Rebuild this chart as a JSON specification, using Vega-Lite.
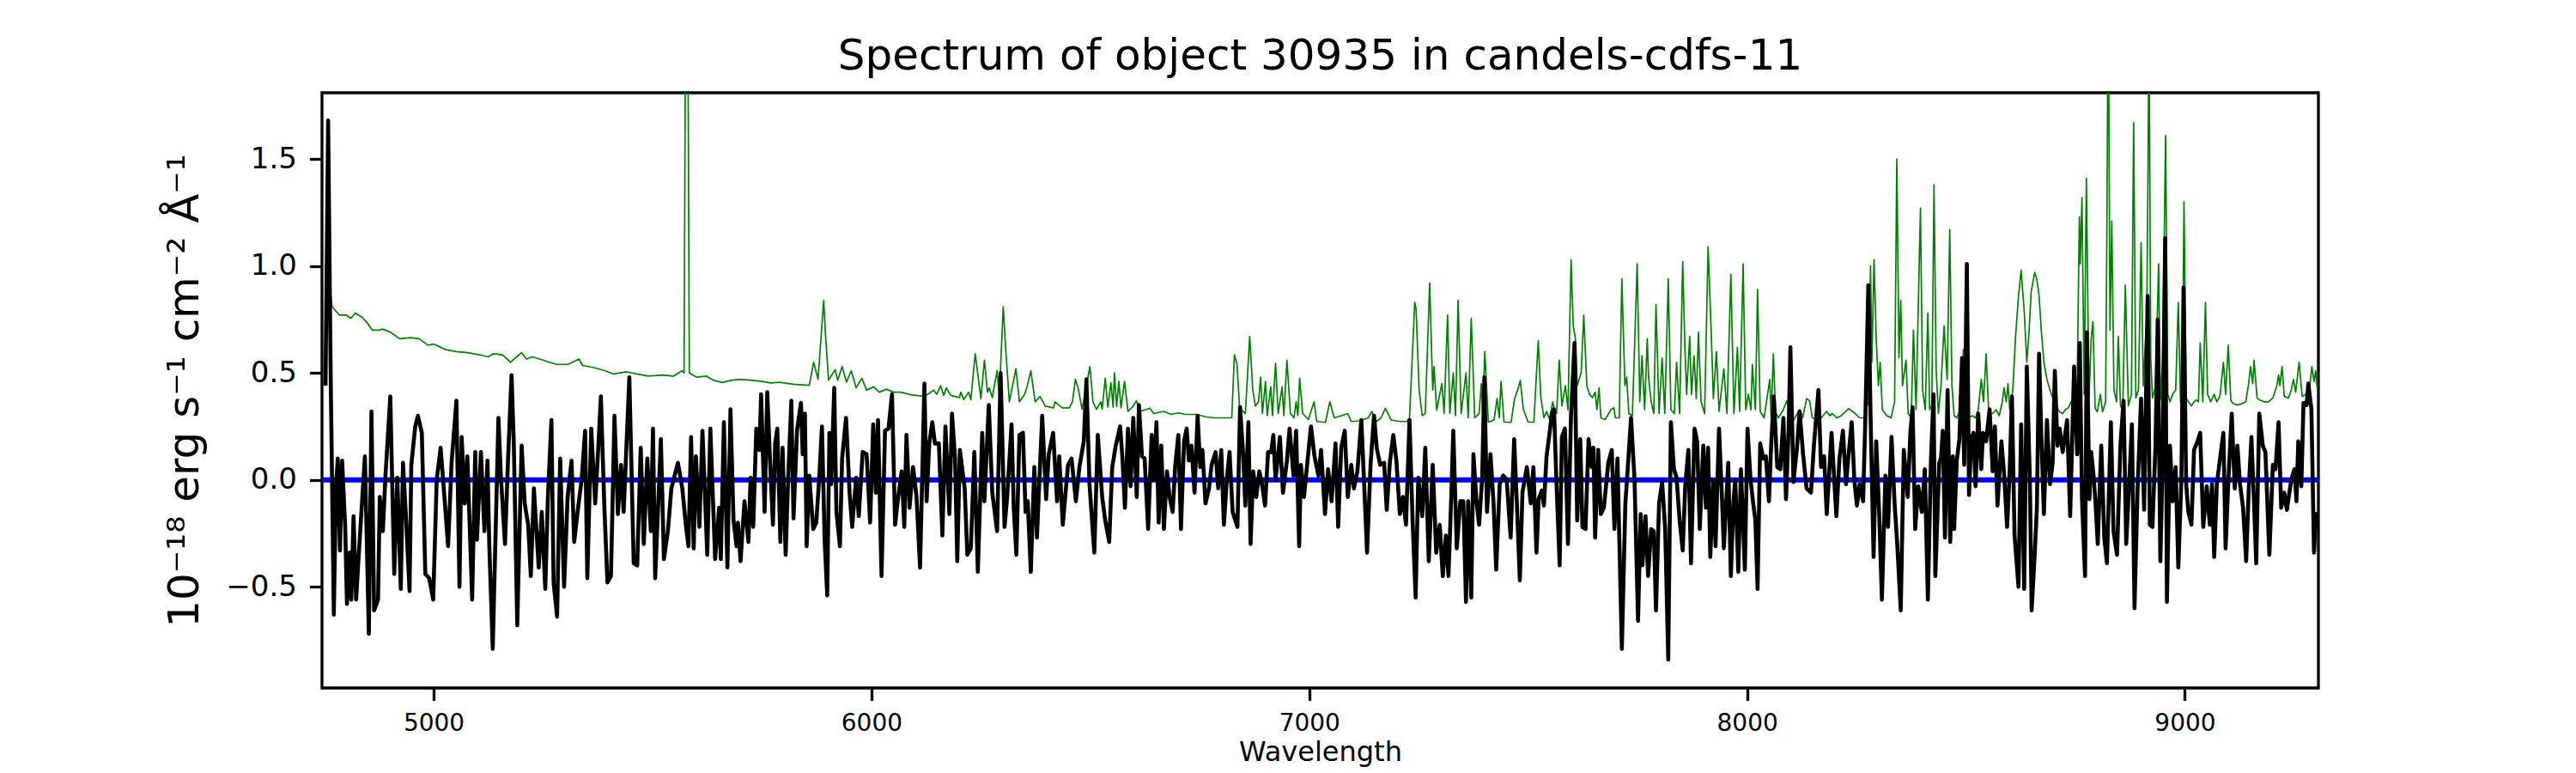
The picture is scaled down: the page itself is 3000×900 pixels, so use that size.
{
  "$schema": "https://vega.github.io/schema/vega-lite/v6.json",
  "description": "Spectrum of object 30935 in candels-cdfs-11",
  "width": 2325,
  "height": 693,
  "autosize": {"type": "none"},
  "padding": {"left": 375, "top": 108, "right": 300, "bottom": 99},
  "background": "white",
  "title": {
    "text": "Spectrum of object 30935 in candels-cdfs-11",
    "fontSize": 50,
    "fontWeight": "normal",
    "color": "black",
    "anchor": "middle",
    "frame": "group",
    "baseline": "alphabetic",
    "offset": 25,
    "dy": 48
  },
  "datasets": {
    "zero": [{"wavelength": 4745, "flux": 0}, {"wavelength": 9305, "flux": 0}],
    "model": [
      {"wavelength":4752,"flux":1.00},{"wavelength":4762,"flux":0.92},{"wavelength":4768,"flux":0.81},{"wavelength":4785,"flux":0.77},{"wavelength":4801,"flux":0.77},{"wavelength":4811,"flux":0.755},{"wavelength":4821,"flux":0.78},{"wavelength":4837,"flux":0.76},{"wavelength":4850,"flux":0.73},{"wavelength":4860,"flux":0.70},{"wavelength":4876,"flux":0.70},{"wavelength":4883,"flux":0.705},{"wavelength":4902,"flux":0.69},{"wavelength":4922,"flux":0.66},{"wavelength":4948,"flux":0.665},{"wavelength":4967,"flux":0.66},{"wavelength":4987,"flux":0.63},{"wavelength":5000,"flux":0.635},{"wavelength":5026,"flux":0.61},{"wavelength":5052,"flux":0.60},{"wavelength":5078,"flux":0.595},{"wavelength":5105,"flux":0.585},{"wavelength":5124,"flux":0.575},{"wavelength":5137,"flux":0.59},{"wavelength":5157,"flux":0.585},{"wavelength":5176,"flux":0.55},{"wavelength":5189,"flux":0.575},{"wavelength":5201,"flux":0.595},{"wavelength":5212,"flux":0.565},{"wavelength":5225,"flux":0.575},{"wavelength":5242,"flux":0.565},{"wavelength":5264,"flux":0.55},{"wavelength":5281,"flux":0.54},{"wavelength":5307,"flux":0.54},{"wavelength":5332,"flux":0.565},{"wavelength":5340,"flux":0.535},{"wavelength":5366,"flux":0.525},{"wavelength":5392,"flux":0.51},{"wavelength":5411,"flux":0.495},{"wavelength":5441,"flux":0.505},{"wavelength":5464,"flux":0.495},{"wavelength":5490,"flux":0.485},{"wavelength":5522,"flux":0.49},{"wavelength":5548,"flux":0.485},{"wavelength":5567,"flux":0.51},{"wavelength":5572,"flux":0.50},{"wavelength":5576,"flux":2.5},{"wavelength":5580,"flux":2.5},{"wavelength":5584,"flux":0.50},{"wavelength":5601,"flux":0.48},{"wavelength":5623,"flux":0.485},{"wavelength":5640,"flux":0.465},{"wavelength":5659,"flux":0.455},{"wavelength":5679,"flux":0.465},{"wavelength":5698,"flux":0.47},{"wavelength":5724,"flux":0.466},{"wavelength":5750,"flux":0.46},{"wavelength":5770,"flux":0.453},{"wavelength":5790,"flux":0.456},{"wavelength":5822,"flux":0.447},{"wavelength":5858,"flux":0.442},{"wavelength":5868,"flux":0.55},{"wavelength":5878,"flux":0.47},{"wavelength":5891,"flux":0.84},{"wavelength":5895,"flux":0.68},{"wavelength":5902,"flux":0.466},{"wavelength":5917,"flux":0.515},{"wavelength":5923,"flux":0.466},{"wavelength":5933,"flux":0.53},{"wavelength":5943,"flux":0.457},{"wavelength":5954,"flux":0.51},{"wavelength":5965,"flux":0.43},{"wavelength":5978,"flux":0.475},{"wavelength":5989,"flux":0.42},{"wavelength":6005,"flux":0.435},{"wavelength":6018,"flux":0.41},{"wavelength":6034,"flux":0.424},{"wavelength":6051,"flux":0.41},{"wavelength":6067,"flux":0.41},{"wavelength":6090,"flux":0.398},{"wavelength":6116,"flux":0.392},{"wavelength":6129,"flux":0.40},{"wavelength":6142,"flux":0.42},{"wavelength":6149,"flux":0.40},{"wavelength":6158,"flux":0.44},{"wavelength":6165,"flux":0.395},{"wavelength":6171,"flux":0.43},{"wavelength":6181,"flux":0.395},{"wavelength":6201,"flux":0.385},{"wavelength":6204,"flux":0.41},{"wavelength":6211,"flux":0.375},{"wavelength":6222,"flux":0.41},{"wavelength":6227,"flux":0.375},{"wavelength":6237,"flux":0.59},{"wavelength":6250,"flux":0.38},{"wavelength":6258,"flux":0.56},{"wavelength":6265,"flux":0.41},{"wavelength":6269,"flux":0.43},{"wavelength":6276,"flux":0.385},{"wavelength":6287,"flux":0.51},{"wavelength":6292,"flux":0.385},{"wavelength":6301,"flux":0.81},{"wavelength":6307,"flux":0.60},{"wavelength":6315,"flux":0.365},{"wavelength":6330,"flux":0.52},{"wavelength":6338,"flux":0.365},{"wavelength":6350,"flux":0.40},{"wavelength":6356,"flux":0.44},{"wavelength":6364,"flux":0.51},{"wavelength":6374,"flux":0.365},{"wavelength":6385,"flux":0.39},{"wavelength":6397,"flux":0.345},{"wavelength":6416,"flux":0.337},{"wavelength":6419,"flux":0.365},{"wavelength":6436,"flux":0.337},{"wavelength":6452,"flux":0.337},{"wavelength":6459,"flux":0.365},{"wavelength":6466,"flux":0.47},{"wavelength":6472,"flux":0.43},{"wavelength":6481,"flux":0.33},{"wavelength":6499,"flux":0.53},{"wavelength":6506,"flux":0.365},{"wavelength":6514,"flux":0.33},{"wavelength":6524,"flux":0.365},{"wavelength":6527,"flux":0.33},{"wavelength":6534,"flux":0.475},{"wavelength":6540,"flux":0.34},{"wavelength":6547,"flux":0.455},{"wavelength":6552,"flux":0.34},{"wavelength":6555,"flux":0.50},{"wavelength":6560,"flux":0.343},{"wavelength":6565,"flux":0.46},{"wavelength":6570,"flux":0.337},{"wavelength":6578,"flux":0.46},{"wavelength":6586,"flux":0.32},{"wavelength":6598,"flux":0.345},
      {"wavelength":6605,"flux":0.37},{"wavelength":6613,"flux":0.32},{"wavelength":6626,"flux":0.328},{"wavelength":6636,"flux":0.335},{"wavelength":6645,"flux":0.31},{"wavelength":6668,"flux":0.32},{"wavelength":6684,"flux":0.306},{"wavelength":6701,"flux":0.313},{"wavelength":6717,"flux":0.306},{"wavelength":6743,"flux":0.306},{"wavelength":6763,"flux":0.295},{"wavelength":6782,"flux":0.29},{"wavelength":6802,"flux":0.29},{"wavelength":6823,"flux":0.29},{"wavelength":6829,"flux":0.585},{"wavelength":6835,"flux":0.54},{"wavelength":6841,"flux":0.335},{"wavelength":6854,"flux":0.31},{"wavelength":6864,"flux":0.67},{"wavelength":6871,"flux":0.42},{"wavelength":6877,"flux":0.345},{"wavelength":6884,"flux":0.365},{"wavelength":6889,"flux":0.48},{"wavelength":6893,"flux":0.31},{"wavelength":6900,"flux":0.46},{"wavelength":6904,"flux":0.30},{"wavelength":6912,"flux":0.435},{"wavelength":6916,"flux":0.30},{"wavelength":6923,"flux":0.545},{"wavelength":6929,"flux":0.31},{"wavelength":6938,"flux":0.435},{"wavelength":6942,"flux":0.30},{"wavelength":6949,"flux":0.56},{"wavelength":6957,"flux":0.31},{"wavelength":6965,"flux":0.29},{"wavelength":6970,"flux":0.365},{"wavelength":6974,"flux":0.30},{"wavelength":6978,"flux":0.475},{"wavelength":6985,"flux":0.31},{"wavelength":6998,"flux":0.282},{"wavelength":7011,"flux":0.365},{"wavelength":7017,"flux":0.273},{"wavelength":7037,"flux":0.269},{"wavelength":7047,"flux":0.365},{"wavelength":7057,"flux":0.29},{"wavelength":7073,"flux":0.30},{"wavelength":7088,"flux":0.31},{"wavelength":7096,"flux":0.273},{"wavelength":7115,"flux":0.276},{"wavelength":7135,"flux":0.29},{"wavelength":7143,"flux":0.32},{"wavelength":7154,"flux":0.273},{"wavelength":7164,"flux":0.29},{"wavelength":7174,"flux":0.335},{"wavelength":7187,"flux":0.28},{"wavelength":7207,"flux":0.273},{"wavelength":7223,"flux":0.273},{"wavelength":7229,"flux":0.29},{"wavelength":7241,"flux":0.83},{"wavelength":7244,"flux":0.80},{"wavelength":7251,"flux":0.42},{"wavelength":7258,"flux":0.30},{"wavelength":7265,"flux":0.31},{"wavelength":7275,"flux":0.92},{"wavelength":7282,"flux":0.42},{"wavelength":7285,"flux":0.53},{"wavelength":7291,"flux":0.326},{"wavelength":7303,"flux":0.45},{"wavelength":7308,"flux":0.31},{"wavelength":7316,"flux":0.77},{"wavelength":7321,"flux":0.31},{"wavelength":7329,"flux":0.50},{"wavelength":7334,"flux":0.30},{"wavelength":7340,"flux":0.84},{"wavelength":7347,"flux":0.31},{"wavelength":7358,"flux":0.50},{"wavelength":7363,"flux":0.29},{"wavelength":7370,"flux":0.755},{"wavelength":7378,"flux":0.29},{"wavelength":7388,"flux":0.31},{"wavelength":7393,"flux":0.45},{"wavelength":7396,"flux":0.31},{"wavelength":7401,"flux":0.60},{"wavelength":7409,"flux":0.27},{"wavelength":7422,"flux":0.28},{"wavelength":7429,"flux":0.38},{"wavelength":7434,"flux":0.29},{"wavelength":7438,"flux":0.46},{"wavelength":7445,"flux":0.27},{"wavelength":7461,"flux":0.269},{"wavelength":7469,"flux":0.38},{"wavelength":7476,"flux":0.42},{"wavelength":7482,"flux":0.465},{"wavelength":7489,"flux":0.33},{"wavelength":7500,"flux":0.27},
      {"wavelength":7513,"flux":0.27},{"wavelength":7523,"flux":0.65},{"wavelength":7529,"flux":0.385},{"wavelength":7536,"flux":0.29},{"wavelength":7542,"flux":0.32},{"wavelength":7549,"flux":0.282},{"wavelength":7556,"flux":0.365},{"wavelength":7560,"flux":0.328},{"wavelength":7565,"flux":0.31},{"wavelength":7571,"flux":0.56},{"wavelength":7577,"flux":0.346},{"wavelength":7585,"flux":0.44},{"wavelength":7591,"flux":0.328},{"wavelength":7598,"flux":1.03},{"wavelength":7603,"flux":0.72},{"wavelength":7608,"flux":0.66},{"wavelength":7612,"flux":0.44},{"wavelength":7621,"flux":0.50},{"wavelength":7627,"flux":0.77},{"wavelength":7634,"flux":0.44},{"wavelength":7640,"flux":0.40},{"wavelength":7647,"flux":0.385},{"wavelength":7653,"flux":0.41},{"wavelength":7657,"flux":0.328},{"wavelength":7662,"flux":0.43},{"wavelength":7666,"flux":0.29},{"wavelength":7676,"flux":0.282},{"wavelength":7689,"flux":0.328},{"wavelength":7696,"flux":0.337},{"wavelength":7699,"flux":0.29},{"wavelength":7708,"flux":0.29},{"wavelength":7714,"flux":0.94},{"wavelength":7721,"flux":0.44},{"wavelength":7725,"flux":0.48},{"wavelength":7730,"flux":0.31},{"wavelength":7738,"flux":0.30},{"wavelength":7749,"flux":1.01},{"wavelength":7755,"flux":0.365},{"wavelength":7760,"flux":0.58},{"wavelength":7766,"flux":0.328},{"wavelength":7772,"flux":0.66},{"wavelength":7775,"flux":0.48},{"wavelength":7781,"flux":0.365},{"wavelength":7787,"flux":0.31},{"wavelength":7792,"flux":0.82},{"wavelength":7799,"flux":0.31},{"wavelength":7806,"flux":0.57},{"wavelength":7812,"flux":0.31},{"wavelength":7820,"flux":0.94},{"wavelength":7826,"flux":0.328},{"wavelength":7834,"flux":0.31},{"wavelength":7839,"flux":0.55},{"wavelength":7846,"flux":0.31},{"wavelength":7853,"flux":1.02},{"wavelength":7858,"flux":0.62},{"wavelength":7862,"flux":0.40},{"wavelength":7869,"flux":0.67},{"wavelength":7873,"flux":0.40},{"wavelength":7879,"flux":0.58},{"wavelength":7884,"flux":0.38},{"wavelength":7889,"flux":0.69},{"wavelength":7895,"flux":0.365},{"wavelength":7903,"flux":0.31},{"wavelength":7911,"flux":1.09},{"wavelength":7918,"flux":0.70},{"wavelength":7923,"flux":0.38},{"wavelength":7930,"flux":0.60},{"wavelength":7936,"flux":0.32},{"wavelength":7947,"flux":0.52},{"wavelength":7954,"flux":0.31},{"wavelength":7963,"flux":0.96},{"wavelength":7970,"flux":0.31},{"wavelength":7978,"flux":0.62},{"wavelength":7983,"flux":0.32},{"wavelength":7991,"flux":1.01},{"wavelength":7997,"flux":0.328},{"wavelength":8003,"flux":0.40},{"wavelength":8009,"flux":0.328},{"wavelength":8012,"flux":0.54},{"wavelength":8019,"flux":0.328},{"wavelength":8024,"flux":0.89},{"wavelength":8030,"flux":0.32},{"wavelength":8039,"flux":0.29},{"wavelength":8052,"flux":0.47},{"wavelength":8055,"flux":0.29},{"wavelength":8060,"flux":0.59},{"wavelength":8065,"flux":0.32},{"wavelength":8071,"flux":0.29},{"wavelength":8081,"flux":0.32},{"wavelength":8091,"flux":0.37},{"wavelength":8097,"flux":0.32},{"wavelength":8107,"flux":0.282},{"wavelength":8120,"flux":0.328},{"wavelength":8127,"flux":0.29},{"wavelength":8136,"flux":0.38},{"wavelength":8143,"flux":0.37},{"wavelength":8149,"flux":0.29},{"wavelength":8166,"flux":0.282},{"wavelength":8182,"flux":0.32},{"wavelength":8189,"flux":0.30},{"wavelength":8195,"flux":0.31},{"wavelength":8205,"flux":0.29},{"wavelength":8215,"flux":0.30},{"wavelength":8225,"flux":0.32},{"wavelength":8232,"flux":0.333},{"wavelength":8241,"flux":0.32},{"wavelength":8247,"flux":0.31},{"wavelength":8257,"flux":0.29},{"wavelength":8267,"flux":0.29},{"wavelength":8277,"flux":0.365},{"wavelength":8282,"flux":1.00},{"wavelength":8285,"flux":0.55},{"wavelength":8290,"flux":1.03},{"wavelength":8295,"flux":0.66},{"wavelength":8300,"flux":0.44},{"wavelength":8304,"flux":0.55},{"wavelength":8309,"flux":0.328},{"wavelength":8319,"flux":0.30},{"wavelength":8329,"flux":0.29},{"wavelength":8337,"flux":0.365},{"wavelength":8342,"flux":1.50},{"wavelength":8347,"flux":0.57},{"wavelength":8351,"flux":0.84},{"wavelength":8355,"flux":0.44},{"wavelength":8363,"flux":0.56},{"wavelength":8368,"flux":0.31},{"wavelength":8375,"flux":0.29},{"wavelength":8380,"flux":0.70},{"wavelength":8386,"flux":0.328},{"wavelength":8396,"flux":1.27},{"wavelength":8401,"flux":0.42},{"wavelength":8407,"flux":0.328},{"wavelength":8413,"flux":0.78},{"wavelength":8417,"flux":0.328},{"wavelength":8422,"flux":0.35},{"wavelength":8427,"flux":1.38},{"wavelength":8432,"flux":0.51},{"wavelength":8437,"flux":0.31},{"wavelength":8443,"flux":0.44},{"wavelength":8450,"flux":0.72},{"wavelength":8457,"flux":0.47},{"wavelength":8463,"flux":1.17},{"wavelength":8468,"flux":0.44},{"wavelength":8473,"flux":0.30},{"wavelength":8479,"flux":0.29},{"wavelength":8489,"flux":0.337},{"wavelength":8494,"flux":0.61},{"wavelength":8499,"flux":0.31},{"wavelength":8505,"flux":0.29},{"wavelength":8515,"flux":0.30},{"wavelength":8522,"flux":0.29},{"wavelength":8528,"flux":0.328},{"wavelength":8535,"flux":0.47},{"wavelength":8540,"flux":0.365},{"wavelength":8546,"flux":0.59},{"wavelength":8552,"flux":0.31},{"wavelength":8561,"flux":0.31},{"wavelength":8569,"flux":0.328},{"wavelength":8576,"flux":0.30},{"wavelength":8583,"flux":0.365},{"wavelength":8587,"flux":0.43},{"wavelength":8592,"flux":0.365},{"wavelength":8596,"flux":0.45},{"wavelength":8600,"flux":0.328},{"wavelength":8607,"flux":0.42},{"wavelength":8613,"flux":0.66},{"wavelength":8620,"flux":0.86},{"wavelength":8626,"flux":0.98},{"wavelength":8633,"flux":0.79},{"wavelength":8639,"flux":0.55},{"wavelength":8644,"flux":0.69},{"wavelength":8649,"flux":0.88},{"wavelength":8657,"flux":0.97},{"wavelength":8662,"flux":0.935},{"wavelength":8667,"flux":0.86},{"wavelength":8672,"flux":0.70},{"wavelength":8678,"flux":0.55},{"wavelength":8685,"flux":0.47},{"wavelength":8692,"flux":0.42},{"wavelength":8698,"flux":0.385},{"wavelength":8707,"flux":0.34},{"wavelength":8714,"flux":0.318},{"wavelength":8721,"flux":0.31},{"wavelength":8727,"flux":0.328},{"wavelength":8734,"flux":0.337},{"wavelength":8740,"flux":0.365},{"wavelength":8747,"flux":0.355},{"wavelength":8754,"flux":0.44},{"wavelength":8759,"flux":1.23},{"wavelength":8761,"flux":1.01},{"wavelength":8765,"flux":1.32},{"wavelength":8770,"flux":0.40},{"wavelength":8775,"flux":1.41},{"wavelength":8781,"flux":0.38},{"wavelength":8786,"flux":0.66},{"wavelength":8790,"flux":0.74},{"wavelength":8795,"flux":0.337},{"wavelength":8800,"flux":0.318},{"wavelength":8807,"flux":0.40},{"wavelength":8812,"flux":0.318},{"wavelength":8819,"flux":0.365},{"wavelength":8822,"flux":1.2},{"wavelength":8825,"flux":2.4},{"wavelength":8827,"flux":1.5},{"wavelength":8829,"flux":0.70},{"wavelength":8833,"flux":1.21},{"wavelength":8838,"flux":0.42},{"wavelength":8844,"flux":0.365},{"wavelength":8848,"flux":0.67},{"wavelength":8853,"flux":0.346},{"wavelength":8858,"flux":0.328},{"wavelength":8864,"flux":0.91},{"wavelength":8871,"flux":0.346},{"wavelength":8878,"flux":0.40},{"wavelength":8883,"flux":1.67},{"wavelength":8888,"flux":0.383},{"wavelength":8894,"flux":0.42},{"wavelength":8900,"flux":1.11},{"wavelength":8905,"flux":0.44},{"wavelength":8910,"flux":0.66},{"wavelength":8913,"flux":0.75},{"wavelength":8916,"flux":1.5},{"wavelength":8918,"flux":2.2},{"wavelength":8920,"flux":1.4},{"wavelength":8922,"flux":0.57},{"wavelength":8926,"flux":0.383},{"wavelength":8933,"flux":0.44},{"wavelength":8940,"flux":1.01},{"wavelength":8944,"flux":0.374},{"wavelength":8949,"flux":0.55},{"wavelength":8956,"flux":1.61},{"wavelength":8961,"flux":0.40},{"wavelength":8966,"flux":0.365},{"wavelength":8972,"flux":0.40},{"wavelength":8979,"flux":0.42},{"wavelength":8985,"flux":0.83},{"wavelength":8990,"flux":0.365},{"wavelength":8994,"flux":0.374},{"wavelength":8998,"flux":1.30},{"wavelength":9003,"flux":0.383},{"wavelength":9008,"flux":0.365},{"wavelength":9015,"flux":0.346},{"wavelength":9021,"flux":0.365},{"wavelength":9026,"flux":0.374},{"wavelength":9031,"flux":0.365},{"wavelength":9035,"flux":0.64},{"wavelength":9041,"flux":0.365},{"wavelength":9047,"flux":0.83},{"wavelength":9052,"flux":0.40},{"wavelength":9059,"flux":0.365},{"wavelength":9067,"flux":0.40},{"wavelength":9073,"flux":0.365},{"wavelength":9080,"flux":0.39},{"wavelength":9088,"flux":0.55},{"wavelength":9093,"flux":0.40},{"wavelength":9099,"flux":0.63},{"wavelength":9105,"flux":0.37},{"wavelength":9112,"flux":0.355},{"wavelength":9119,"flux":0.35},{"wavelength":9129,"flux":0.355},{"wavelength":9139,"flux":0.365},{"wavelength":9145,"flux":0.44},{"wavelength":9150,"flux":0.53},{"wavelength":9155,"flux":0.45},{"wavelength":9158,"flux":0.56},{"wavelength":9165,"flux":0.383},{"wavelength":9171,"flux":0.374},{"wavelength":9181,"flux":0.365},{"wavelength":9191,"flux":0.365},{"wavelength":9201,"flux":0.383},{"wavelength":9210,"flux":0.44},{"wavelength":9214,"flux":0.49},{"wavelength":9217,"flux":0.44},{"wavelength":9222,"flux":0.53},{"wavelength":9227,"flux":0.39},{"wavelength":9237,"flux":0.383},{"wavelength":9243,"flux":0.42},{"wavelength":9248,"flux":0.47},{"wavelength":9253,"flux":0.41},{"wavelength":9261,"flux":0.55},{"wavelength":9268,"flux":0.39},{"wavelength":9276,"flux":0.40},{"wavelength":9285,"flux":0.43},{"wavelength":9290,"flux":0.53},{"wavelength":9295,"flux":0.46},{"wavelength":9299,"flux":0.51},{"wavelength":9302,"flux":0.43}
    ],
    "spectrum": [
      {"wavelength":4753,"flux":0.44},{"wavelength":4759,"flux":1.68},{"wavelength":4765,"flux":0.46},{"wavelength":4772,"flux":-0.63},{"wavelength":4777,"flux":-0.03},{"wavelength":4781,"flux":0.10},{"wavelength":4786,"flux":-0.33},{"wavelength":4791,"flux":0.09},{"wavelength":4798,"flux":-0.22},{"wavelength":4802,"flux":-0.58},{"wavelength":4808,"flux":-0.34},{"wavelength":4812,"flux":-0.56},{"wavelength":4817,"flux":-0.17},{"wavelength":4823,"flux":-0.56},{"wavelength":4829,"flux":-0.35},{"wavelength":4835,"flux":-0.15},{"wavelength":4843,"flux":0.11},{"wavelength":4852,"flux":-0.72},{"wavelength":4858,"flux":0.32},{"wavelength":4864,"flux":-0.61},{"wavelength":4873,"flux":-0.56},{"wavelength":4877,"flux":-0.08},{"wavelength":4884,"flux":-0.24},{"wavelength":4890,"flux":0.02},{"wavelength":4901,"flux":0.39},{"wavelength":4910,"flux":-0.44},{"wavelength":4917,"flux":0.01},{"wavelength":4925,"flux":-0.51},{"wavelength":4930,"flux":0.08},{"wavelength":4936,"flux":-0.14},{"wavelength":4945,"flux":-0.52},{"wavelength":4949,"flux":0.07},{"wavelength":4958,"flux":0.25},{"wavelength":4964,"flux":0.30},{"wavelength":4973,"flux":0.22},{"wavelength":4981,"flux":-0.44},{"wavelength":4990,"flux":-0.46},{"wavelength":4999,"flux":-0.56},{"wavelength":5007,"flux":0.00},{"wavelength":5016,"flux":0.15},{"wavelength":5025,"flux":-0.09},{"wavelength":5033,"flux":-0.31},{"wavelength":5041,"flux":0.08},{"wavelength":5052,"flux":0.37},{"wavelength":5059,"flux":-0.50},{"wavelength":5064,"flux":0.20},{"wavelength":5071,"flux":-0.11},{"wavelength":5077,"flux":0.11},{"wavelength":5088,"flux":-0.56},{"wavelength":5095,"flux":0.13},{"wavelength":5099,"flux":-0.28},{"wavelength":5108,"flux":0.13},{"wavelength":5116,"flux":-0.24},{"wavelength":5123,"flux":0.09},{"wavelength":5127,"flux":-0.30},{"wavelength":5135,"flux":-0.79},{"wavelength":5148,"flux":0.29},{"wavelength":5154,"flux":0.00},{"wavelength":5163,"flux":-0.30},{"wavelength":5170,"flux":0.10},{"wavelength":5178,"flux":0.49},{"wavelength":5183,"flux":0.18},{"wavelength":5191,"flux":-0.68},{"wavelength":5201,"flux":0.16},{"wavelength":5208,"flux":-0.11},{"wavelength":5216,"flux":-0.21},{"wavelength":5222,"flux":-0.45},{"wavelength":5229,"flux":-0.04},{"wavelength":5240,"flux":-0.41},{"wavelength":5247,"flux":-0.15},{"wavelength":5255,"flux":-0.51},{"wavelength":5261,"flux":-0.08},{"wavelength":5269,"flux":0.28},{"wavelength":5274,"flux":-0.48},{"wavelength":5282,"flux":-0.64},{"wavelength":5289,"flux":0.10},{"wavelength":5298,"flux":-0.50},{"wavelength":5306,"flux":-0.08},{"wavelength":5315,"flux":0.09},{"wavelength":5321,"flux":-0.29},{"wavelength":5330,"flux":-0.13},{"wavelength":5338,"flux":0.00},{"wavelength":5346,"flux":0.23},{"wavelength":5351,"flux":-0.46},{"wavelength":5360,"flux":0.24},{"wavelength":5369,"flux":-0.11},{"wavelength":5375,"flux":0.11},{"wavelength":5382,"flux":0.39},{"wavelength":5390,"flux":-0.13},{"wavelength":5397,"flux":-0.48},{"wavelength":5405,"flux":-0.45},{"wavelength":5413,"flux":0.30},{"wavelength":5421,"flux":-0.16},{"wavelength":5428,"flux":0.07},{"wavelength":5434,"flux":-0.15},{"wavelength":5447,"flux":0.48},{"wavelength":5457,"flux":-0.39},{"wavelength":5465,"flux":-0.40},{"wavelength":5473,"flux":0.15},{"wavelength":5480,"flux":-0.30},{"wavelength":5488,"flux":0.10},{"wavelength":5496,"flux":-0.24},{"wavelength":5501,"flux":0.24},{"wavelength":5506,"flux":-0.46},{"wavelength":5519,"flux":0.19},{"wavelength":5526,"flux":-0.37},{"wavelength":5535,"flux":-0.24},{"wavelength":5543,"flux":-0.04},{"wavelength":5558,"flux":0.08},{"wavelength":5568,"flux":-0.04},{"wavelength":5576,"flux":-0.21},{"wavelength":5582,"flux":-0.31},{"wavelength":5588,"flux":0.20},{"wavelength":5594,"flux":-0.32},{"wavelength":5599,"flux":0.11},{"wavelength":5607,"flux":-0.22},{"wavelength":5614,"flux":0.23},{"wavelength":5625,"flux":-0.35},{"wavelength":5632,"flux":0.24},{"wavelength":5643,"flux":-0.37},{"wavelength":5652,"flux":-0.13},{"wavelength":5656,"flux":-0.37},{"wavelength":5663,"flux":0.27},{"wavelength":5671,"flux":-0.41},{"wavelength":5678,"flux":0.33},
      {"wavelength":5685,"flux":-0.19},{"wavelength":5692,"flux":-0.31},{"wavelength":5695,"flux":-0.20},{"wavelength":5701,"flux":-0.38},{"wavelength":5710,"flux":-0.10},{"wavelength":5719,"flux":-0.29},{"wavelength":5724,"flux":0.01},{"wavelength":5730,"flux":-0.22},{"wavelength":5737,"flux":0.24},{"wavelength":5744,"flux":0.14},{"wavelength":5748,"flux":0.40},{"wavelength":5756,"flux":-0.15},{"wavelength":5762,"flux":0.41},{"wavelength":5769,"flux":0.06},{"wavelength":5775,"flux":-0.21},{"wavelength":5780,"flux":0.17},{"wavelength":5785,"flux":0.24},{"wavelength":5792,"flux":-0.29},{"wavelength":5797,"flux":0.15},{"wavelength":5804,"flux":-0.35},{"wavelength":5810,"flux":0.02},{"wavelength":5817,"flux":0.37},{"wavelength":5822,"flux":-0.18},{"wavelength":5830,"flux":0.23},{"wavelength":5839,"flux":0.36},{"wavelength":5843,"flux":0.12},{"wavelength":5848,"flux":0.31},{"wavelength":5852,"flux":-0.31},{"wavelength":5858,"flux":0.02},{"wavelength":5867,"flux":-0.23},{"wavelength":5874,"flux":-0.20},{"wavelength":5881,"flux":0.02},{"wavelength":5887,"flux":0.25},{"wavelength":5893,"flux":-0.28},{"wavelength":5899,"flux":-0.54},{"wavelength":5904,"flux":0.22},{"wavelength":5908,"flux":-0.02},{"wavelength":5915,"flux":0.43},{"wavelength":5920,"flux":-0.15},{"wavelength":5928,"flux":-0.31},{"wavelength":5933,"flux":0.10},{"wavelength":5942,"flux":0.29},{"wavelength":5950,"flux":-0.06},{"wavelength":5956,"flux":-0.22},{"wavelength":5965,"flux":0.01},{"wavelength":5971,"flux":-0.17},{"wavelength":5980,"flux":0.13},{"wavelength":5989,"flux":0.12},{"wavelength":5997,"flux":-0.20},{"wavelength":6004,"flux":0.26},{"wavelength":6010,"flux":-0.06},{"wavelength":6015,"flux":0.28},{"wavelength":6023,"flux":-0.45},{"wavelength":6031,"flux":0.23},{"wavelength":6039,"flux":0.24},{"wavelength":6047,"flux":0.40},{"wavelength":6054,"flux":-0.21},{"wavelength":6060,"flux":-0.10},{"wavelength":6069,"flux":0.04},{"wavelength":6075,"flux":-0.22},{"wavelength":6080,"flux":0.21},{"wavelength":6087,"flux":-0.13},{"wavelength":6095,"flux":0.06},{"wavelength":6103,"flux":-0.08},{"wavelength":6111,"flux":-0.41},{"wavelength":6121,"flux":0.45},{"wavelength":6126,"flux":-0.10},{"wavelength":6132,"flux":0.17},{"wavelength":6139,"flux":0.27},{"wavelength":6145,"flux":0.17},{"wavelength":6154,"flux":0.17},{"wavelength":6162,"flux":-0.26},{"wavelength":6169,"flux":0.25},{"wavelength":6178,"flux":-0.16},{"wavelength":6184,"flux":0.31},{"wavelength":6191,"flux":0.10},{"wavelength":6196,"flux":-0.38},{"wavelength":6202,"flux":0.14},{"wavelength":6213,"flux":-0.04},{"wavelength":6219,"flux":-0.35},{"wavelength":6227,"flux":-0.32},{"wavelength":6235,"flux":0.13},{"wavelength":6243,"flux":-0.43},{"wavelength":6253,"flux":0.22},{"wavelength":6258,"flux":-0.10},{"wavelength":6268,"flux":0.35},{"wavelength":6276,"flux":-0.06},{"wavelength":6287,"flux":-0.24},{"wavelength":6295,"flux":0.50},{"wavelength":6304,"flux":-0.22},{"wavelength":6310,"flux":-0.08},{"wavelength":6320,"flux":0.26},{"wavelength":6325,"flux":-0.13},{"wavelength":6331,"flux":-0.35},{"wavelength":6338,"flux":0.21},{"wavelength":6346,"flux":0.22},{"wavelength":6352,"flux":-0.15},{"wavelength":6357,"flux":-0.10},{"wavelength":6364,"flux":-0.43},{"wavelength":6372,"flux":0.06},{"wavelength":6378,"flux":-0.27},{"wavelength":6390,"flux":0.30},{"wavelength":6399,"flux":-0.09},{"wavelength":6405,"flux":0.12},{"wavelength":6415,"flux":0.22},{"wavelength":6424,"flux":-0.10},{"wavelength":6429,"flux":0.11},{"wavelength":6437,"flux":-0.21},{"wavelength":6449,"flux":0.07},{"wavelength":6457,"flux":0.10},{"wavelength":6467,"flux":-0.10},{"wavelength":6475,"flux":0.06},{"wavelength":6485,"flux":0.18},{"wavelength":6491,"flux":0.47},{"wavelength":6498,"flux":-0.02},{"wavelength":6509,"flux":-0.34},{"wavelength":6517,"flux":0.21},{"wavelength":6527,"flux":-0.08},{"wavelength":6534,"flux":-0.19},{"wavelength":6543,"flux":-0.29},{"wavelength":6550,"flux":0.06},{"wavelength":6558,"flux":0.16},{"wavelength":6568,"flux":0.25},{"wavelength":6573,"flux":0.11},{"wavelength":6579,"flux":-0.13},{"wavelength":6586,"flux":0.24},{"wavelength":6592,"flux":-0.03},{"wavelength":6598,"flux":0.29},
      {"wavelength":6606,"flux":-0.08},{"wavelength":6611,"flux":0.35},{"wavelength":6618,"flux":0.11},{"wavelength":6624,"flux":0.10},{"wavelength":6632,"flux":-0.23},{"wavelength":6640,"flux":0.21},{"wavelength":6645,"flux":0.00},{"wavelength":6651,"flux":0.27},{"wavelength":6656,"flux":-0.20},{"wavelength":6662,"flux":0.16},{"wavelength":6668,"flux":-0.23},{"wavelength":6675,"flux":0.04},{"wavelength":6681,"flux":-0.08},{"wavelength":6688,"flux":-0.15},{"wavelength":6694,"flux":0.07},{"wavelength":6701,"flux":0.21},{"wavelength":6707,"flux":-0.23},{"wavelength":6714,"flux":0.18},{"wavelength":6720,"flux":0.24},{"wavelength":6725,"flux":0.09},{"wavelength":6731,"flux":0.16},{"wavelength":6738,"flux":-0.06},{"wavelength":6745,"flux":0.30},{"wavelength":6751,"flux":0.06},{"wavelength":6756,"flux":0.14},{"wavelength":6763,"flux":-0.11},{"wavelength":6771,"flux":-0.04},{"wavelength":6777,"flux":0.07},{"wavelength":6786,"flux":0.13},{"wavelength":6792,"flux":-0.04},{"wavelength":6799,"flux":0.14},{"wavelength":6805,"flux":-0.21},{"wavelength":6812,"flux":0.01},{"wavelength":6818,"flux":0.13},{"wavelength":6825,"flux":-0.15},{"wavelength":6836,"flux":-0.22},{"wavelength":6842,"flux":0.34},{"wavelength":6849,"flux":0.12},{"wavelength":6854,"flux":-0.12},{"wavelength":6861,"flux":0.27},{"wavelength":6866,"flux":-0.30},{"wavelength":6872,"flux":0.04},{"wavelength":6879,"flux":-0.08},{"wavelength":6886,"flux":0.04},{"wavelength":6892,"flux":-0.02},{"wavelength":6899,"flux":-0.12},{"wavelength":6906,"flux":0.13},{"wavelength":6913,"flux":0.13},{"wavelength":6918,"flux":0.21},{"wavelength":6923,"flux":0.00},{"wavelength":6933,"flux":0.20},{"wavelength":6940,"flux":-0.06},{"wavelength":6949,"flux":0.09},{"wavelength":6955,"flux":0.24},{"wavelength":6964,"flux":0.02},{"wavelength":6970,"flux":0.23},{"wavelength":6977,"flux":-0.31},{"wavelength":6981,"flux":0.07},{"wavelength":6988,"flux":-0.08},{"wavelength":6998,"flux":0.13},{"wavelength":7004,"flux":0.25},{"wavelength":7012,"flux":0.11},{"wavelength":7021,"flux":0.02},{"wavelength":7027,"flux":0.14},{"wavelength":7036,"flux":-0.16},{"wavelength":7043,"flux":0.05},{"wavelength":7051,"flux":-0.10},{"wavelength":7060,"flux":0.17},{"wavelength":7066,"flux":-0.22},{"wavelength":7073,"flux":0.15},{"wavelength":7081,"flux":0.23},{"wavelength":7088,"flux":-0.08},{"wavelength":7096,"flux":0.07},{"wavelength":7102,"flux":-0.04},{"wavelength":7110,"flux":0.04},{"wavelength":7119,"flux":0.28},{"wavelength":7125,"flux":0.00},{"wavelength":7132,"flux":-0.34},{"wavelength":7140,"flux":0.07},{"wavelength":7148,"flux":0.30},{"wavelength":7154,"flux":0.15},{"wavelength":7162,"flux":0.07},{"wavelength":7171,"flux":0.08},{"wavelength":7177,"flux":-0.14},{"wavelength":7184,"flux":0.08},{"wavelength":7192,"flux":0.21},{"wavelength":7199,"flux":0.09},{"wavelength":7207,"flux":-0.16},{"wavelength":7214,"flux":-0.08},{"wavelength":7221,"flux":-0.21},{"wavelength":7229,"flux":0.28},{"wavelength":7236,"flux":-0.19},{"wavelength":7243,"flux":-0.55},{"wavelength":7249,"flux":0.01},{"wavelength":7258,"flux":-0.17},{"wavelength":7265,"flux":0.15},{"wavelength":7273,"flux":-0.38},{"wavelength":7282,"flux":0.07},{"wavelength":7290,"flux":-0.34},{"wavelength":7298,"flux":-0.21},{"wavelength":7305,"flux":-0.45},{"wavelength":7312,"flux":-0.26},{"wavelength":7318,"flux":-0.45},{"wavelength":7324,"flux":-0.10},{"wavelength":7329,"flux":0.23},{"wavelength":7337,"flux":-0.32},{"wavelength":7345,"flux":-0.10},{"wavelength":7352,"flux":-0.10},{"wavelength":7358,"flux":-0.57},{"wavelength":7363,"flux":-0.10},{"wavelength":7370,"flux":-0.55},{"wavelength":7375,"flux":0.12},{"wavelength":7382,"flux":-0.10},{"wavelength":7388,"flux":-0.21},{"wavelength":7395,"flux":0.01},{"wavelength":7400,"flux":0.48},{"wavelength":7406,"flux":-0.15},{"wavelength":7414,"flux":0.12},{"wavelength":7421,"flux":-0.11},{"wavelength":7427,"flux":-0.42},{"wavelength":7435,"flux":-0.02},{"wavelength":7443,"flux":0.02},{"wavelength":7451,"flux":0.00},{"wavelength":7460,"flux":-0.27},{"wavelength":7468,"flux":0.19},{"wavelength":7474,"flux":-0.10},{"wavelength":7481,"flux":-0.47},{"wavelength":7487,"flux":-0.06},{"wavelength":7497,"flux":0.06},{"wavelength":7506,"flux":-0.11},{"wavelength":7512,"flux":0.06},{"wavelength":7519,"flux":-0.34},
      {"wavelength":7524,"flux":-0.09},{"wavelength":7531,"flux":-0.05},{"wavelength":7536,"flux":-0.12},{"wavelength":7542,"flux":0.11},{"wavelength":7549,"flux":0.22},{"wavelength":7554,"flux":0.31},{"wavelength":7559,"flux":0.33},{"wavelength":7565,"flux":-0.03},{"wavelength":7572,"flux":-0.40},{"wavelength":7577,"flux":0.20},{"wavelength":7584,"flux":0.24},{"wavelength":7591,"flux":-0.30},{"wavelength":7598,"flux":0.31},{"wavelength":7606,"flux":0.64},{"wavelength":7612,"flux":-0.19},{"wavelength":7619,"flux":0.19},{"wavelength":7624,"flux":-0.22},{"wavelength":7631,"flux":-0.23},{"wavelength":7638,"flux":0.19},{"wavelength":7645,"flux":0.06},{"wavelength":7649,"flux":0.15},{"wavelength":7653,"flux":-0.27},{"wavelength":7660,"flux":0.14},{"wavelength":7666,"flux":-0.16},{"wavelength":7673,"flux":-0.13},{"wavelength":7683,"flux":0.08},{"wavelength":7691,"flux":0.14},{"wavelength":7697,"flux":-0.23},{"wavelength":7704,"flux":0.10},{"wavelength":7714,"flux":-0.79},{"wavelength":7722,"flux":-0.11},{"wavelength":7728,"flux":0.07},{"wavelength":7735,"flux":0.29},{"wavelength":7743,"flux":0.00},{"wavelength":7751,"flux":-0.66},{"wavelength":7757,"flux":-0.16},{"wavelength":7761,"flux":-0.40},{"wavelength":7768,"flux":-0.17},{"wavelength":7774,"flux":-0.45},{"wavelength":7781,"flux":-0.23},{"wavelength":7787,"flux":-0.24},{"wavelength":7792,"flux":-0.61},{"wavelength":7799,"flux":-0.11},{"wavelength":7806,"flux":-0.01},{"wavelength":7813,"flux":-0.23},{"wavelength":7820,"flux":-0.84},{"wavelength":7826,"flux":0.27},{"wavelength":7833,"flux":0.05},{"wavelength":7839,"flux":0.01},{"wavelength":7846,"flux":-0.19},{"wavelength":7853,"flux":-0.33},{"wavelength":7859,"flux":-0.02},{"wavelength":7866,"flux":0.14},{"wavelength":7872,"flux":-0.39},{"wavelength":7880,"flux":0.24},{"wavelength":7886,"flux":0.18},{"wavelength":7892,"flux":-0.23},{"wavelength":7900,"flux":0.16},{"wavelength":7906,"flux":-0.13},{"wavelength":7911,"flux":0.15},{"wavelength":7916,"flux":-0.36},{"wavelength":7923,"flux":0.00},{"wavelength":7928,"flux":-0.31},{"wavelength":7936,"flux":0.24},{"wavelength":7943,"flux":-0.10},{"wavelength":7947,"flux":-0.32},{"wavelength":7957,"flux":0.08},{"wavelength":7963,"flux":-0.45},{"wavelength":7969,"flux":-0.10},{"wavelength":7973,"flux":0.00},{"wavelength":7980,"flux":-0.43},{"wavelength":7986,"flux":0.05},{"wavelength":7995,"flux":-0.42},{"wavelength":8001,"flux":0.24},{"wavelength":8008,"flux":0.00},{"wavelength":8014,"flux":-0.11},{"wavelength":8019,"flux":-0.19},{"wavelength":8024,"flux":-0.51},{"wavelength":8030,"flux":0.17},{"wavelength":8037,"flux":0.10},{"wavelength":8043,"flux":0.11},{"wavelength":8050,"flux":-0.10},{"wavelength":8055,"flux":0.16},{"wavelength":8061,"flux":0.39},{"wavelength":8069,"flux":0.06},{"wavelength":8076,"flux":0.05},{"wavelength":8083,"flux":0.29},{"wavelength":8089,"flux":-0.09},{"wavelength":8095,"flux":0.24},{"wavelength":8099,"flux":0.62},{"wavelength":8106,"flux":-0.01},{"wavelength":8114,"flux":0.15},{"wavelength":8120,"flux":0.32},{"wavelength":8128,"flux":0.12},{"wavelength":8136,"flux":-0.04},{"wavelength":8146,"flux":-0.06},{"wavelength":8153,"flux":0.17},{"wavelength":8163,"flux":0.42},{"wavelength":8169,"flux":0.06},{"wavelength":8176,"flux":0.11},{"wavelength":8182,"flux":-0.16},{"wavelength":8193,"flux":0.22},{"wavelength":8204,"flux":-0.17},{"wavelength":8211,"flux":0.10},{"wavelength":8219,"flux":0.23},{"wavelength":8226,"flux":-0.02},{"wavelength":8232,"flux":0.12},{"wavelength":8239,"flux":0.27},{"wavelength":8245,"flux":0.00},{"wavelength":8251,"flux":-0.12},{"wavelength":8257,"flux":-0.02},{"wavelength":8265,"flux":-0.10},{"wavelength":8270,"flux":0.27},{"wavelength":8277,"flux":0.91},{"wavelength":8282,"flux":0.31},{"wavelength":8289,"flux":-0.36},{"wavelength":8295,"flux":0.18},{"wavelength":8302,"flux":-0.17},{"wavelength":8308,"flux":-0.56},{"wavelength":8316,"flux":0.02},{"wavelength":8322,"flux":-0.22},{"wavelength":8330,"flux":0.20},{"wavelength":8337,"flux":-0.11},{"wavelength":8343,"flux":-0.30},{"wavelength":8351,"flux":-0.61},{"wavelength":8358,"flux":0.14},{"wavelength":8367,"flux":-0.08},{"wavelength":8373,"flux":0.22},{"wavelength":8378,"flux":0.34},{"wavelength":8384,"flux":-0.23},{"wavelength":8391,"flux":-0.03},{"wavelength":8399,"flux":-0.15},{"wavelength":8406,"flux":0.05},{"wavelength":8413,"flux":-0.56},{"wavelength":8420,"flux":0.09},{"wavelength":8426,"flux":0.40},{"wavelength":8430,"flux":-0.45},{"wavelength":8439,"flux":0.08},
      {"wavelength":8443,"flux":0.10},{"wavelength":8447,"flux":0.23},{"wavelength":8452,"flux":-0.27},{"wavelength":8458,"flux":0.42},{"wavelength":8464,"flux":-0.29},{"wavelength":8470,"flux":0.11},{"wavelength":8473,"flux":-0.23},{"wavelength":8479,"flux":0.09},{"wavelength":8485,"flux":0.19},{"wavelength":8491,"flux":0.57},{"wavelength":8496,"flux":0.07},{"wavelength":8502,"flux":1.01},{"wavelength":8507,"flux":-0.07},{"wavelength":8512,"flux":0.19},{"wavelength":8517,"flux":0.22},{"wavelength":8522,"flux":-0.03},{"wavelength":8528,"flux":0.31},{"wavelength":8535,"flux":0.05},{"wavelength":8539,"flux":0.22},{"wavelength":8546,"flux":0.18},{"wavelength":8554,"flux":0.33},{"wavelength":8561,"flux":0.04},{"wavelength":8566,"flux":0.25},{"wavelength":8572,"flux":-0.12},{"wavelength":8581,"flux":0.18},{"wavelength":8587,"flux":0.03},{"wavelength":8594,"flux":-0.22},{"wavelength":8600,"flux":0.05},{"wavelength":8605,"flux":0.39},{"wavelength":8611,"flux":-0.26},{"wavelength":8620,"flux":-0.50},{"wavelength":8626,"flux":0.26},{"wavelength":8633,"flux":-0.51},{"wavelength":8639,"flux":0.53},{"wavelength":8646,"flux":0.00},{"wavelength":8650,"flux":-0.61},{"wavelength":8657,"flux":-0.35},{"wavelength":8662,"flux":-0.13},{"wavelength":8667,"flux":0.59},{"wavelength":8672,"flux":0.22},{"wavelength":8678,"flux":-0.16},{"wavelength":8685,"flux":0.28},{"wavelength":8692,"flux":-0.02},{"wavelength":8698,"flux":0.08},{"wavelength":8703,"flux":0.51},{"wavelength":8709,"flux":0.16},{"wavelength":8714,"flux":0.24},{"wavelength":8721,"flux":0.13},{"wavelength":8731,"flux":0.28},{"wavelength":8738,"flux":-0.17},{"wavelength":8747,"flux":0.53},{"wavelength":8754,"flux":0.12},{"wavelength":8760,"flux":0.64},{"wavelength":8765,"flux":-0.09},{"wavelength":8772,"flux":-0.45},{"wavelength":8776,"flux":0.69},{"wavelength":8782,"flux":-0.09},{"wavelength":8786,"flux":0.13},{"wavelength":8791,"flux":0.03},{"wavelength":8796,"flux":-0.11},{"wavelength":8801,"flux":-0.30},{"wavelength":8809,"flux":0.16},{"wavelength":8816,"flux":-0.27},{"wavelength":8822,"flux":-0.39},{"wavelength":8831,"flux":0.27},{"wavelength":8837,"flux":-0.24},{"wavelength":8845,"flux":-0.35},{"wavelength":8853,"flux":0.17},{"wavelength":8860,"flux":0.37},{"wavelength":8866,"flux":-0.30},{"wavelength":8873,"flux":-0.01},{"wavelength":8879,"flux":0.26},{"wavelength":8885,"flux":-0.60},{"wavelength":8892,"flux":-0.04},{"wavelength":8900,"flux":0.38},{"wavelength":8907,"flux":-0.14},{"wavelength":8915,"flux":0.86},{"wavelength":8920,"flux":-0.21},{"wavelength":8926,"flux":-0.22},{"wavelength":8933,"flux":0.17},{"wavelength":8938,"flux":0.75},{"wavelength":8944,"flux":-0.38},{"wavelength":8949,"flux":0.07},{"wavelength":8955,"flux":1.13},{"wavelength":8959,"flux":-0.57},{"wavelength":8966,"flux":0.16},{"wavelength":8972,"flux":-0.10},{"wavelength":8979,"flux":0.06},{"wavelength":8985,"flux":-0.41},{"wavelength":8992,"flux":0.00},{"wavelength":8997,"flux":0.90},{"wavelength":9003,"flux":-0.02},{"wavelength":9008,"flux":-0.15},{"wavelength":9015,"flux":-0.21},{"wavelength":9021,"flux":0.14},{"wavelength":9029,"flux":0.18},{"wavelength":9035,"flux":0.22},{"wavelength":9042,"flux":-0.22},{"wavelength":9050,"flux":-0.03},{"wavelength":9057,"flux":-0.21},{"wavelength":9062,"flux":-0.02},{"wavelength":9067,"flux":-0.36},{"wavelength":9073,"flux":-0.02},{"wavelength":9081,"flux":0.11},{"wavelength":9088,"flux":0.22},{"wavelength":9093,"flux":-0.32},{"wavelength":9099,"flux":-0.02},{"wavelength":9107,"flux":0.31},{"wavelength":9114,"flux":-0.04},{"wavelength":9120,"flux":0.16},{"wavelength":9126,"flux":-0.02},{"wavelength":9133,"flux":-0.13},{"wavelength":9140,"flux":-0.38},{"wavelength":9146,"flux":-0.04},{"wavelength":9152,"flux":0.20},{"wavelength":9158,"flux":-0.11},{"wavelength":9163,"flux":-0.39},{"wavelength":9170,"flux":0.31},{"wavelength":9178,"flux":0.16},{"wavelength":9184,"flux":0.13},{"wavelength":9193,"flux":-0.35},{"wavelength":9201,"flux":0.07},{"wavelength":9207,"flux":0.05},{"wavelength":9214,"flux":0.27},{"wavelength":9220,"flux":-0.13},{"wavelength":9227,"flux":-0.06},{"wavelength":9233,"flux":-0.14},{"wavelength":9243,"flux":0.00},{"wavelength":9250,"flux":0.05},{"wavelength":9255,"flux":-0.10},{"wavelength":9259,"flux":0.18},{"wavelength":9266,"flux":-0.03},{"wavelength":9271,"flux":0.36},{"wavelength":9278,"flux":0.35},{"wavelength":9282,"flux":0.45},{"wavelength":9289,"flux":0.33},{"wavelength":9295,"flux":-0.34},{"wavelength":9300,"flux":-0.15}
    ]
  },
  "encoding": {
    "x": {
      "field": "wavelength",
      "type": "quantitative",
      "scale": {"domain": [4745, 9305], "zero": false, "nice": false},
      "axis": {
        "title": "Wavelength",
        "values": [5000, 6000, 7000, 8000, 9000],
        "format": "d",
        "labelFontSize": 28,
        "labelPadding": 13,
        "titleFontSize": 32,
        "titlePadding": 4
      }
    },
    "y": {
      "field": "flux",
      "type": "quantitative",
      "scale": {"domain": [-0.973, 1.81], "zero": false, "nice": false},
      "axis": {
        "title": "10⁻¹⁸ erg s⁻¹ cm⁻² Å⁻¹",
        "values": [-0.5, 0, 0.5, 1, 1.5],
        "format": ".1f",
        "labelFontSize": 34,
        "labelPadding": 15,
        "titleFontSize": 50,
        "titlePadding": 22
      }
    }
  },
  "layer": [
    {
      "data": {"name": "zero"},
      "mark": {"type": "line", "color": "#0000ff", "strokeWidth": 6, "clip": true}
    },
    {
      "data": {"name": "model"},
      "mark": {"type": "line", "color": "#008000", "strokeWidth": 1.7, "strokeJoin": "round", "clip": true}
    },
    {
      "data": {"name": "spectrum"},
      "mark": {"type": "line", "color": "#000000", "strokeWidth": 4.6, "strokeJoin": "round", "clip": true}
    }
  ],
  "config": {
    "font": "DejaVu Sans",
    "view": {"stroke": "#000000", "strokeWidth": 3.3},
    "axis": {
      "domain": false,
      "grid": false,
      "ticks": true,
      "tickSize": 14.6,
      "tickWidth": 3.3,
      "tickColor": "#000000",
      "labelColor": "#000000",
      "labelFont": "DejaVu Sans",
      "labelFlush": false,
      "labelOverlap": false,
      "titleColor": "#000000",
      "titleFont": "DejaVu Sans",
      "titleFontWeight": "normal"
    }
  }
}
